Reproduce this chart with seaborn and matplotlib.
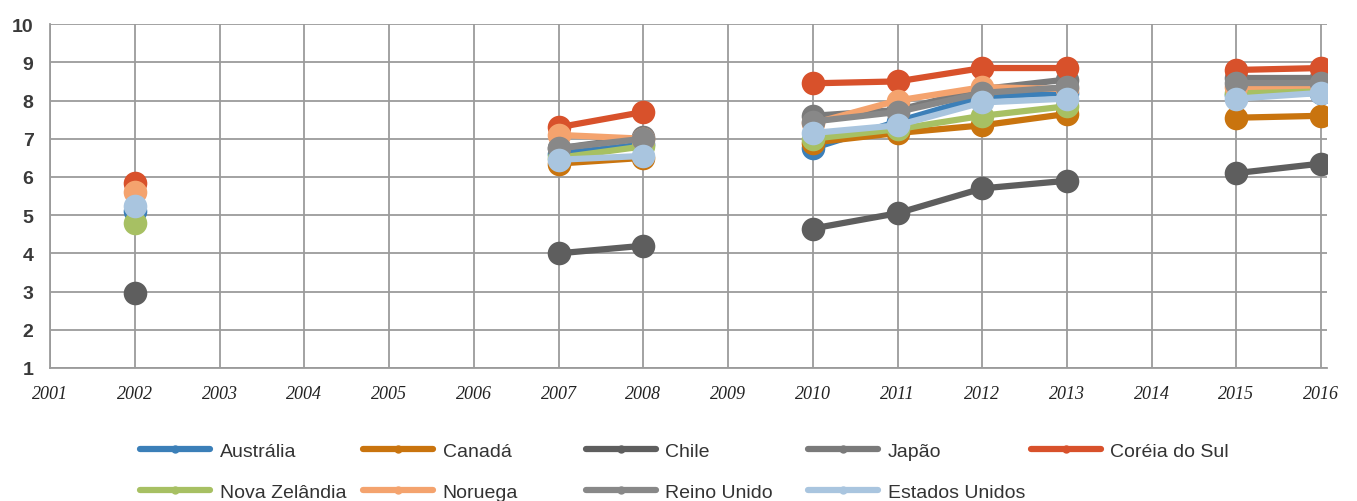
import numpy as np
import pandas as pd
import seaborn as sns
import matplotlib
matplotlib.use("Agg")
import matplotlib.pyplot as plt
from matplotlib.lines import Line2D

nan = np.nan

anos = [2002, 2007, 2008, 2010, 2011, 2012, 2013, 2015, 2016]

paises = ["Austrália", "Canadá", "Chile", "Japão", "Coréia do Sul",
          "Nova Zelândia", "Noruega", "Reino Unido", "Estados Unidos"]

australia = [5.1, 6.6, 6.85, 6.75, 7.45, 8.1, 8.2, 8.15, 8.2]
canada = [nan, 6.35, 6.5, 6.9, 7.15, 7.35, 7.65, 7.55, 7.6]
chile = [2.97, 4.0, 4.2, 4.65, 5.05, 5.7, 5.9, 6.1, 6.35]
japao = [nan, 6.75, 7.05, 7.6, 7.75, 8.3, 8.55, 8.6, 8.6]
coreia = [5.85, 7.3, 7.7, 8.45, 8.5, 8.85, 8.85, 8.8, 8.85]
nova_zelandia = [4.8, 6.5, 6.8, 7.0, 7.25, 7.6, 7.85, 8.2, 8.3]
noruega = [5.6, 7.1, 7.0, 7.4, 8.0, 8.35, 8.3, 8.35, 8.4]
reino_unido = [nan, 6.75, 7.0, 7.45, 7.7, 8.2, 8.35, 8.45, 8.45]
estados_unidos = [5.25, 6.45, 6.55, 7.15, 7.35, 7.95, 8.05, 8.05, 8.2]

valores = [australia, canada, chile, japao, coreia,
           nova_zelandia, noruega, reino_unido, estados_unidos]

cores = {
    "Austrália": "#3b7fb8",
    "Canadá": "#c9740e",
    "Chile": "#5e5e5e",
    "Japão": "#7a7a7a",
    "Coréia do Sul": "#d8512b",
    "Nova Zelândia": "#a7c063",
    "Noruega": "#f4a36e",
    "Reino Unido": "#888888",
    "Estados Unidos": "#a9c5df",
}

# long-form table; consecutive years share a segment id so gaps stay open
linhas = []
for pais, serie in zip(paises, valores):
    trecho = 0
    anterior = None
    for ano, v in zip(anos, serie):
        if anterior is not None and ano - anterior > 1:
            trecho += 1
        anterior = ano
        if not np.isnan(v):
            linhas.append({"ano": ano, "valor": v, "pais": pais, "trecho": trecho})
df = pd.DataFrame(linhas)

sns.set_style("white")
fig = plt.figure(figsize=(13.57, 5.02), dpi=100)
ax = fig.add_axes([0.037, 0.265, 0.941, 0.685])

sns.lineplot(data=df, x="ano", y="valor", hue="pais", units="trecho",
             estimator=None, hue_order=paises, palette=cores,
             marker="o", markersize=17, markeredgewidth=0, linewidth=4.5,
             legend=False, ax=ax)

ax.set_xlim(2001, 2016.07)
ax.set_ylim(1, 10)
ax.set_xticks(range(2001, 2017))
ax.set_yticks(range(1, 11))
ax.set_xlabel("")
ax.set_ylabel("")
ax.grid(True, color="#9b9b9b", linewidth=1.3)
ax.set_axisbelow(True)
for lado in ["top", "right"]:
    ax.spines[lado].set_visible(False)
for lado in ["left", "bottom"]:
    ax.spines[lado].set_color("#9b9b9b")
    ax.spines[lado].set_linewidth(1.3)
ax.tick_params(axis="both", length=0)
ax.tick_params(axis="y", pad=12)
ax.tick_params(axis="x", pad=12)
for t in ax.get_yticklabels():
    t.set_fontfamily("Liberation Sans")
    t.set_fontweight("bold")
    t.set_fontsize(14)
    t.set_color("#3a3a3a")
for t in ax.get_xticklabels():
    t.set_fontfamily("Liberation Serif")
    t.set_fontstyle("italic")
    t.set_fontsize(13)
    t.set_color("#222222")

# legend: five fixed-width columns, two rows
handles = {p: Line2D([], [], color=cores[p], linewidth=4.5, marker="o",
                     markersize=6, markeredgewidth=0) for p in paises}
colunas = [["Austrália", "Nova Zelândia"], ["Canadá", "Noruega"],
           ["Chile", "Reino Unido"], ["Japão", "Estados Unidos"],
           ["Coréia do Sul"]]
x0, passo = 0.1035, 0.164
for i, col in enumerate(colunas):
    leg = fig.legend([handles[p] for p in col], col,
                     loc="upper left", bbox_to_anchor=(x0 + i * passo, 0.117),
                     frameon=False, handlelength=3.6, handletextpad=0.5,
                     labelspacing=1.2, borderaxespad=0, borderpad=0,
                     prop={"family": "Liberation Sans", "size": 14})
    for t in leg.get_texts():
        t.set_color("#333333")

fig.savefig("out.png", dpi=100)
